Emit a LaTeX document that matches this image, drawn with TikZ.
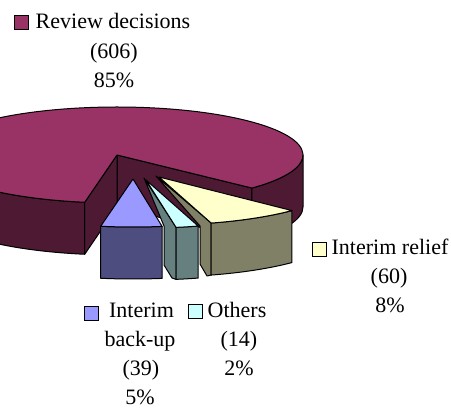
\documentclass[tikz,border=0pt]{standalone}
\usepackage{fontspec}
\setmainfont{Liberation Serif}
\definecolor{revtop}{HTML}{993366}
\definecolor{revside}{HTML}{4D1933}
\definecolor{buptop}{HTML}{9999FF}
\definecolor{bupside}{HTML}{4D4D80}
\definecolor{othtop}{HTML}{CCFFFF}
\definecolor{othside}{HTML}{668080}
\definecolor{reltop}{HTML}{FFFFCC}
\definecolor{relside}{HTML}{808066}
\tikzset{
  face/.style={draw=black, line width=1pt, line join=round},
  lbl/.style={font=\fontsize{22}{26}\selectfont, anchor=base, inner sep=0pt},
  legkey/.style={draw=black, line width=0.8pt, minimum size=14pt, inner sep=0pt},
  er/.style={x radius=186pt, y radius=48pt}
}
\begin{document}
\begin{tikzpicture}[x=1pt,y=1pt]
\useasboundingbox (0,0) rectangle (451,412);
\begin{scope}
\clip (0,0) rectangle (451,412);
% ---------- main slice: Review decisions ----------
\coordinate (C) at (117,257);
\path (C) ++(180:186pt and 48pt) coordinate (m180);
\path (C) ++(260:186pt and 48pt) coordinate (m260);
\path (C) ++(-43.5:186pt and 48pt) coordinate (mR);
\filldraw[face, fill=revside] (m180) arc[start angle=180, end angle=260, er]
   -- ++(0,-52) arc[start angle=260, end angle=180, er] -- cycle;
\filldraw[face, fill=revside] (C) -- (mR) -- ([yshift=-52pt]mR) -- ([yshift=-52pt]C) -- cycle;
\filldraw[face, fill=revside] (m260) -- (C) -- ([yshift=-52pt]C) -- ([yshift=-52pt]m260) -- cycle;
\filldraw[face, fill=revside] (mR) arc[start angle=-43.5, end angle=0, er]
   -- ++(0,-52) arc[start angle=0, end angle=-43.5, er] -- cycle;
\filldraw[face, fill=revtop] (C) -- (mR) arc[start angle=-43.5, end angle=260, er] -- cycle;
% ---------- Interim relief ----------
\coordinate (R) at (159,235);
\path (R) ++(286.3:186pt and 48pt) coordinate (r1);
\path (R) ++(315.6:186pt and 48pt) coordinate (r2);
\filldraw[face, fill=relside] (156,236) -- (r1) -- ([yshift=-52pt]r1) -- (207,136) -- (200,148) -- (200,186) -- cycle;
\filldraw[face, fill=relside] (r1) arc[start angle=286.3, end angle=315.6, er]
   -- ++(0,-52) arc[start angle=315.6, end angle=286.3, er] -- cycle;
\filldraw[face, fill=reltop] (R) -- (r1) arc[start angle=286.3, end angle=315.6, er] -- cycle;
% ---------- Others ----------
\coordinate (O) at (146,232);
\path (O) ++(279.3:186pt and 48pt) coordinate (o1);
\path (O) ++(286.3:186pt and 48pt) coordinate (o2);
\filldraw[face, fill=othside] (144,234) -- (o1) -- ([yshift=-52pt]o1) -- (172,134) -- (164,147) -- (164,186) -- cycle;
\filldraw[face, fill=othside] (o1) arc[start angle=279.3, end angle=286.3, er]
   -- ++(0,-52) arc[start angle=286.3, end angle=279.3, er] -- cycle;
\filldraw[face, fill=othtop] (O) -- (o1) arc[start angle=279.3, end angle=286.3, er] -- cycle;
% ---------- Interim back-up ----------
\coordinate (P) at (133,233);
\path (P) ++(260:186pt and 48pt) coordinate (p1);
\filldraw[face, fill=bupside] (p1) arc[start angle=260, end angle=279, er]
   -- ++(0,-52) arc[start angle=279, end angle=260, er] -- cycle;
\filldraw[face, fill=buptop] (P) -- (p1) arc[start angle=260, end angle=279, er] -- cycle;
\end{scope}
% ---------- labels ----------
\node[legkey, fill=revtop] (krev) at (21.5,389.5) {};
\node[lbl] (trev1) at (113,383) {Review decisions};
\node[lbl] (trev2) at (114,353) {(606)};
\node[lbl] (trev3) at (114,324) {85\%};
\node[legkey, fill=reltop] (krel) at (319,163) {};
\node[lbl] (trel1) at (390,157) {Interim relief};
\node[lbl] (trel2) at (389,128) {(60)};
\node[lbl] (trel3) at (390,99) {8\%};
\node[legkey, fill=buptop] (kbup) at (91,99) {};
\node[lbl] (tbup1) at (141.5,94) {Interim};
\node[lbl] (tbup2) at (140,65) {back-up};
\node[lbl] (tbup3) at (141,36) {(39)};
\node[lbl] (tbup4) at (140,7) {5\%};
\node[legkey, fill=othtop] (koth) at (195,100.5) {};
\node[lbl] (toth1) at (237,94) {Others};
\node[lbl] (toth2) at (239,65) {(14)};
\node[lbl] (toth3) at (239,36) {2\%};
\end{tikzpicture}
\end{document}
